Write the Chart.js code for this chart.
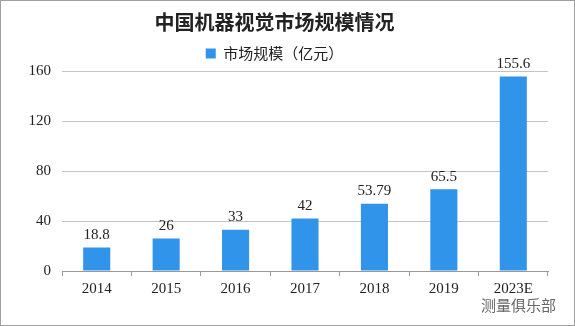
<!DOCTYPE html>
<html lang="zh">
<head>
  <meta charset="UTF-8">
  <script src="https://cdn.jsdelivr.net/npm/chart.js"></script>
  <style>
    body { margin: 0; background: #fff; }
    .box {
      position: relative;
      width: 573px;
      height: 324px;
      border: 1px solid #a0a0a0;
      background: #fff;
    }
    .credit {
      position: absolute;
      right: 18px;
      bottom: 10px;
      font-family: 'Noto Sans CJK SC', sans-serif;
      font-size: 15px;
      color: #666;
    }
  </style>
  <title>中国机器视觉市场规模情况</title>
</head>
<body>
  <div class="box">
    <canvas id="chart" width="573" height="324"></canvas>
    <div class="credit">测量俱乐部</div>
  </div>
  <script>
    const years = ['2014', '2015', '2016', '2017', '2018', '2019', '2023E'];
    const marketSize = [18.8, 26, 33, 42, 53.79, 65.5, 155.6];
    const yTicks = [0, 40, 80, 120, 160];

    const numFont = "'Liberation Serif', serif";
    const cnFont = "'Noto Sans CJK SC', sans-serif";

    // value labels above each bar
    const barLabels = {
      id: 'barLabels',
      afterDatasetsDraw(chart) {
        const ctx = chart.ctx;
        const meta = chart.getDatasetMeta(0);
        ctx.save();
        ctx.font = '15px ' + numFont;
        ctx.fillStyle = '#222';
        ctx.textAlign = 'center';
        ctx.textBaseline = 'bottom';
        meta.data.forEach((bar, i) => {
          ctx.fillText(String(marketSize[i]), bar.x, bar.y - 5);
        });
        ctx.restore();
      }
    };

    new Chart(document.getElementById('chart'), {
      type: 'bar',
      data: {
        labels: years,
        datasets: [{
          label: '市场规模（亿元）',
          data: marketSize,
          backgroundColor: '#3094ea',
          barPercentage: 0.39,
          categoryPercentage: 1
        }]
      },
      options: {
        responsive: false,
        animation: false,
        layout: { padding: { left: 0, right: 26, top: 0, bottom: 23 } },
        plugins: {
          title: {
            display: true,
            text: '中国机器视觉市场规模情况',
            color: '#222',
            font: { family: cnFont, size: 20, weight: 'bold' },
            padding: { top: 9, bottom: 4 }
          },
          legend: {
            labels: {
              color: '#222',
              font: { family: cnFont, size: 15 },
              boxWidth: 10,
              boxHeight: 10,
              padding: 8
            }
          },
          tooltip: { enabled: false }
        },
        scales: {
          x: {
            offset: true,
            grid: {
              offset: true,
              drawOnChartArea: false,
              tickLength: 5,
              color: '#999'
            },
            border: { color: '#999' },
            ticks: { color: '#222', font: { family: numFont, size: 15 }, padding: 4 }
          },
          y: {
            min: 0,
            max: 160,
            afterBuildTicks(scale) {
              scale.ticks = yTicks.map(v => ({ value: v }));
            },
            afterFit(scale) { scale.width = 61; },
            grid: { color: '#c4c4c4', drawTicks: false },
            border: { display: false },
            ticks: { color: '#222', font: { family: numFont, size: 15 }, padding: 11 }
          }
        }
      },
      plugins: [barLabels]
    });
  </script>
</body>
</html>
